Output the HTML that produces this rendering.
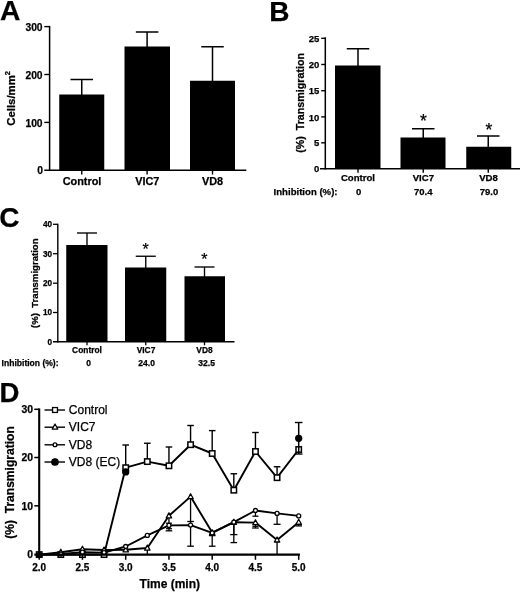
<!DOCTYPE html>
<html><head><meta charset="utf-8"><title>Figure</title>
<style>
html,body{margin:0;padding:0;background:#fff;}
svg{display:block;font-family:'Liberation Sans', Arial, Helvetica, sans-serif;}
text{stroke:#000;stroke-width:0.25px;}
</style></head><body>
<svg width="520" height="593" viewBox="0 0 520 593">
<rect width="520" height="593" fill="#fff"/>
<text x="10.10" y="20.30" font-size="28.3" font-weight="bold" text-anchor="middle" >A</text>
<line x1="81.75" y1="79.50" x2="81.75" y2="95.50" stroke="#000" stroke-width="1.5" />
<line x1="70.50" y1="79.50" x2="93.00" y2="79.50" stroke="#000" stroke-width="1.5" />
<rect x="59.25" y="94.50" width="45.00" height="75.80" fill="#000"/>
<line x1="81.75" y1="170.30" x2="81.75" y2="174.60" stroke="#000" stroke-width="1.4" />
<line x1="147.10" y1="32.00" x2="147.10" y2="47.50" stroke="#000" stroke-width="1.5" />
<line x1="135.85" y1="32.00" x2="158.35" y2="32.00" stroke="#000" stroke-width="1.5" />
<rect x="124.50" y="46.50" width="45.50" height="123.80" fill="#000"/>
<line x1="147.10" y1="170.30" x2="147.10" y2="174.60" stroke="#000" stroke-width="1.4" />
<line x1="212.50" y1="46.75" x2="212.50" y2="81.75" stroke="#000" stroke-width="1.5" />
<line x1="201.25" y1="46.75" x2="223.75" y2="46.75" stroke="#000" stroke-width="1.5" />
<rect x="190.00" y="80.75" width="45.00" height="89.55" fill="#000"/>
<line x1="212.50" y1="170.30" x2="212.50" y2="174.60" stroke="#000" stroke-width="1.4" />
<line x1="49.60" y1="25.90" x2="49.60" y2="171.05" stroke="#000" stroke-width="1.5" />
<line x1="44.30" y1="170.30" x2="246.30" y2="170.30" stroke="#000" stroke-width="1.6" />
<line x1="44.30" y1="26.60" x2="49.60" y2="26.60" stroke="#000" stroke-width="1.4" />
<text x="42.60" y="30.70" font-size="10.3" font-weight="bold" text-anchor="end" >300</text>
<line x1="44.30" y1="74.50" x2="49.60" y2="74.50" stroke="#000" stroke-width="1.4" />
<text x="42.60" y="78.60" font-size="10.3" font-weight="bold" text-anchor="end" >200</text>
<line x1="44.30" y1="122.40" x2="49.60" y2="122.40" stroke="#000" stroke-width="1.4" />
<text x="42.60" y="126.50" font-size="10.3" font-weight="bold" text-anchor="end" >100</text>
<text x="43.00" y="174.40" font-size="10.3" font-weight="bold" text-anchor="end" >0</text>
<text x="82.00" y="184.50" font-size="10.9" font-weight="bold" text-anchor="middle" >Control</text>
<text x="147.30" y="184.50" font-size="10.9" font-weight="bold" text-anchor="middle" >VIC7</text>
<text x="212.50" y="184.50" font-size="10.9" font-weight="bold" text-anchor="middle" >VD8</text>
<text x="15.5" y="125.8" font-size="11.4" font-weight="bold" transform="rotate(-90 15.5 125.8)">Cells/mm<tspan font-size="7.5" dy="-5.8">2</tspan></text>
<text x="279.40" y="20.70" font-size="28" font-weight="bold" text-anchor="middle" >B</text>
<line x1="358.00" y1="48.75" x2="358.00" y2="66.50" stroke="#000" stroke-width="1.5" />
<line x1="346.75" y1="48.75" x2="369.25" y2="48.75" stroke="#000" stroke-width="1.5" />
<rect x="335.00" y="65.50" width="45.50" height="103.20" fill="#000"/>
<line x1="358.00" y1="168.70" x2="358.00" y2="172.80" stroke="#000" stroke-width="1.4" />
<line x1="423.25" y1="128.75" x2="423.25" y2="138.50" stroke="#000" stroke-width="1.5" />
<line x1="412.00" y1="128.75" x2="434.50" y2="128.75" stroke="#000" stroke-width="1.5" />
<rect x="400.50" y="137.50" width="45.00" height="31.20" fill="#000"/>
<line x1="423.25" y1="168.70" x2="423.25" y2="172.80" stroke="#000" stroke-width="1.4" />
<line x1="488.25" y1="136.00" x2="488.25" y2="147.75" stroke="#000" stroke-width="1.5" />
<line x1="477.00" y1="136.00" x2="499.50" y2="136.00" stroke="#000" stroke-width="1.5" />
<rect x="466.25" y="146.75" width="45.00" height="21.95" fill="#000"/>
<line x1="488.25" y1="168.70" x2="488.25" y2="172.80" stroke="#000" stroke-width="1.4" />
<line x1="325.30" y1="37.30" x2="325.30" y2="169.45" stroke="#000" stroke-width="1.5" />
<line x1="320.00" y1="168.70" x2="520.00" y2="168.70" stroke="#000" stroke-width="1.6" />
<line x1="321.20" y1="38.30" x2="325.30" y2="38.30" stroke="#000" stroke-width="1.4" />
<text x="319.30" y="41.90" font-size="9.5" font-weight="bold" text-anchor="end" >25</text>
<line x1="321.20" y1="64.50" x2="325.30" y2="64.50" stroke="#000" stroke-width="1.4" />
<text x="319.30" y="68.10" font-size="9.5" font-weight="bold" text-anchor="end" >20</text>
<line x1="321.20" y1="90.70" x2="325.30" y2="90.70" stroke="#000" stroke-width="1.4" />
<text x="319.30" y="94.30" font-size="9.5" font-weight="bold" text-anchor="end" >15</text>
<line x1="321.20" y1="116.90" x2="325.30" y2="116.90" stroke="#000" stroke-width="1.4" />
<text x="319.30" y="120.50" font-size="9.5" font-weight="bold" text-anchor="end" >10</text>
<line x1="321.20" y1="142.80" x2="325.30" y2="142.80" stroke="#000" stroke-width="1.4" />
<text x="319.30" y="146.40" font-size="9.5" font-weight="bold" text-anchor="end" >5</text>
<text x="319.30" y="172.40" font-size="9.5" font-weight="bold" text-anchor="end" >0</text>
<text x="358.00" y="181.30" font-size="9.6" font-weight="bold" text-anchor="middle" >Control</text>
<text x="423.40" y="181.30" font-size="9.6" font-weight="bold" text-anchor="middle" >VIC7</text>
<text x="488.50" y="181.30" font-size="9.6" font-weight="bold" text-anchor="middle" >VD8</text>
<text x="273.60" y="194.90" font-size="9.6" font-weight="bold" text-anchor="start" >Inhibition (%):</text>
<text x="358.70" y="194.90" font-size="9.5" font-weight="bold" text-anchor="middle" >0</text>
<text x="423.20" y="194.90" font-size="9.5" font-weight="bold" text-anchor="middle" >70.4</text>
<text x="489.00" y="194.90" font-size="9.5" font-weight="bold" text-anchor="middle" >79.0</text>
<text x="423.40" y="126.50" font-size="17.5" font-weight="normal" text-anchor="middle" >*</text>
<text x="488.80" y="135.60" font-size="17.5" font-weight="normal" text-anchor="middle" >*</text>
<text x="0" y="0" font-size="10.7" font-weight="bold" text-anchor="start" transform="translate(304.00 152.80) rotate(-90)" xml:space="preserve">(%)  Transmigration</text>
<text x="9.35" y="226.60" font-size="28" font-weight="bold" text-anchor="middle" >C</text>
<line x1="87.00" y1="233.00" x2="87.00" y2="246.00" stroke="#000" stroke-width="1.35" />
<line x1="77.00" y1="233.00" x2="97.00" y2="233.00" stroke="#000" stroke-width="1.35" />
<rect x="66.25" y="245.00" width="41.25" height="96.80" fill="#000"/>
<line x1="87.00" y1="341.80" x2="87.00" y2="345.30" stroke="#000" stroke-width="1.3" />
<line x1="145.75" y1="256.25" x2="145.75" y2="268.50" stroke="#000" stroke-width="1.35" />
<line x1="135.75" y1="256.25" x2="155.75" y2="256.25" stroke="#000" stroke-width="1.35" />
<rect x="125.00" y="267.50" width="41.25" height="74.30" fill="#000"/>
<line x1="145.75" y1="341.80" x2="145.75" y2="345.30" stroke="#000" stroke-width="1.3" />
<line x1="204.50" y1="267.00" x2="204.50" y2="277.25" stroke="#000" stroke-width="1.35" />
<line x1="194.50" y1="267.00" x2="214.50" y2="267.00" stroke="#000" stroke-width="1.35" />
<rect x="184.50" y="276.25" width="40.50" height="65.55" fill="#000"/>
<line x1="204.50" y1="341.80" x2="204.50" y2="345.30" stroke="#000" stroke-width="1.3" />
<line x1="57.80" y1="223.70" x2="57.80" y2="342.50" stroke="#000" stroke-width="1.4" />
<line x1="53.00" y1="341.80" x2="234.50" y2="341.80" stroke="#000" stroke-width="1.4" />
<line x1="53.00" y1="224.30" x2="57.80" y2="224.30" stroke="#000" stroke-width="1.3" />
<text x="52.00" y="227.20" font-size="8.2" font-weight="bold" text-anchor="end" >40</text>
<line x1="53.00" y1="253.70" x2="57.80" y2="253.70" stroke="#000" stroke-width="1.3" />
<text x="52.00" y="256.60" font-size="8.2" font-weight="bold" text-anchor="end" >30</text>
<line x1="53.00" y1="283.20" x2="57.80" y2="283.20" stroke="#000" stroke-width="1.3" />
<text x="52.00" y="286.10" font-size="8.2" font-weight="bold" text-anchor="end" >20</text>
<line x1="53.00" y1="312.50" x2="57.80" y2="312.50" stroke="#000" stroke-width="1.3" />
<text x="52.00" y="315.40" font-size="8.2" font-weight="bold" text-anchor="end" >10</text>
<text x="52.00" y="344.70" font-size="8.2" font-weight="bold" text-anchor="end" >0</text>
<text x="87.00" y="353.10" font-size="8.4" font-weight="bold" text-anchor="middle" >Control</text>
<text x="146.00" y="353.10" font-size="8.4" font-weight="bold" text-anchor="middle" >VIC7</text>
<text x="204.50" y="353.10" font-size="8.4" font-weight="bold" text-anchor="middle" >VD8</text>
<text x="1.60" y="365.50" font-size="8.55" font-weight="bold" text-anchor="start" >Inhibition (%):</text>
<text x="88.70" y="365.50" font-size="8.5" font-weight="bold" text-anchor="middle" >0</text>
<text x="146.60" y="365.50" font-size="8.5" font-weight="bold" text-anchor="middle" >24.0</text>
<text x="206.60" y="365.50" font-size="8.5" font-weight="bold" text-anchor="middle" >32.5</text>
<text x="145.60" y="254.80" font-size="16" font-weight="normal" text-anchor="middle" >*</text>
<text x="204.30" y="264.80" font-size="16" font-weight="normal" text-anchor="middle" >*</text>
<text x="0" y="0" font-size="9.6" font-weight="bold" text-anchor="start" transform="translate(38.20 328.00) rotate(-90)" xml:space="preserve">(%)  Transmigration</text>
<text x="9.40" y="402.00" font-size="27.6" font-weight="bold" text-anchor="middle" >D</text>
<line x1="125.70" y1="445.00" x2="125.70" y2="467.70" stroke="#000" stroke-width="1.4" />
<line x1="122.40" y1="445.00" x2="129.00" y2="445.00" stroke="#000" stroke-width="1.4" />
<line x1="147.32" y1="443.25" x2="147.32" y2="461.60" stroke="#000" stroke-width="1.4" />
<line x1="144.02" y1="443.25" x2="150.62" y2="443.25" stroke="#000" stroke-width="1.4" />
<line x1="168.95" y1="447.00" x2="168.95" y2="465.80" stroke="#000" stroke-width="1.4" />
<line x1="165.65" y1="447.00" x2="172.25" y2="447.00" stroke="#000" stroke-width="1.4" />
<line x1="190.57" y1="425.50" x2="190.57" y2="444.70" stroke="#000" stroke-width="1.4" />
<line x1="187.27" y1="425.50" x2="193.88" y2="425.50" stroke="#000" stroke-width="1.4" />
<line x1="212.20" y1="430.60" x2="212.20" y2="453.50" stroke="#000" stroke-width="1.4" />
<line x1="208.90" y1="430.60" x2="215.50" y2="430.60" stroke="#000" stroke-width="1.4" />
<line x1="233.82" y1="473.75" x2="233.82" y2="490.20" stroke="#000" stroke-width="1.4" />
<line x1="230.52" y1="473.75" x2="237.12" y2="473.75" stroke="#000" stroke-width="1.4" />
<line x1="255.45" y1="432.50" x2="255.45" y2="451.50" stroke="#000" stroke-width="1.4" />
<line x1="252.15" y1="432.50" x2="258.75" y2="432.50" stroke="#000" stroke-width="1.4" />
<line x1="277.07" y1="466.75" x2="277.07" y2="477.70" stroke="#000" stroke-width="1.4" />
<line x1="273.77" y1="466.75" x2="280.38" y2="466.75" stroke="#000" stroke-width="1.4" />
<polyline points="39.20,554.60 60.83,554.60 82.45,554.60 104.08,554.60 125.70,467.70 147.32,461.60 168.95,465.80 190.57,444.70 212.20,453.50 233.82,490.20 255.45,451.50 277.07,477.70 298.70,449.50" fill="none" stroke="#000" stroke-width="1.9" stroke-linejoin="round"/>
<rect x="36.50" y="551.90" width="5.40" height="5.40" fill="#fff" stroke="#000" stroke-width="1.5"/>
<rect x="58.12" y="551.90" width="5.40" height="5.40" fill="#fff" stroke="#000" stroke-width="1.5"/>
<rect x="79.75" y="551.90" width="5.40" height="5.40" fill="#fff" stroke="#000" stroke-width="1.5"/>
<rect x="101.38" y="551.90" width="5.40" height="5.40" fill="#fff" stroke="#000" stroke-width="1.5"/>
<rect x="123.00" y="465.00" width="5.40" height="5.40" fill="#fff" stroke="#000" stroke-width="1.5"/>
<rect x="144.62" y="458.90" width="5.40" height="5.40" fill="#fff" stroke="#000" stroke-width="1.5"/>
<rect x="166.25" y="463.10" width="5.40" height="5.40" fill="#fff" stroke="#000" stroke-width="1.5"/>
<rect x="187.88" y="442.00" width="5.40" height="5.40" fill="#fff" stroke="#000" stroke-width="1.5"/>
<rect x="209.50" y="450.80" width="5.40" height="5.40" fill="#fff" stroke="#000" stroke-width="1.5"/>
<rect x="231.12" y="487.50" width="5.40" height="5.40" fill="#fff" stroke="#000" stroke-width="1.5"/>
<rect x="252.75" y="448.80" width="5.40" height="5.40" fill="#fff" stroke="#000" stroke-width="1.5"/>
<rect x="274.38" y="475.00" width="5.40" height="5.40" fill="#fff" stroke="#000" stroke-width="1.5"/>
<rect x="296.00" y="446.80" width="5.40" height="5.40" fill="#fff" stroke="#000" stroke-width="1.5"/>
<line x1="147.32" y1="548.00" x2="147.32" y2="554.00" stroke="#000" stroke-width="1.3" />
<line x1="168.95" y1="516.00" x2="168.95" y2="530.80" stroke="#000" stroke-width="1.3" />
<line x1="165.65" y1="530.80" x2="172.25" y2="530.80" stroke="#000" stroke-width="1.3" />
<line x1="190.57" y1="497.00" x2="190.57" y2="546.20" stroke="#000" stroke-width="1.3" />
<line x1="187.27" y1="546.20" x2="193.88" y2="546.20" stroke="#000" stroke-width="1.3" />
<line x1="212.20" y1="532.00" x2="212.20" y2="546.20" stroke="#000" stroke-width="1.3" />
<line x1="208.90" y1="546.20" x2="215.50" y2="546.20" stroke="#000" stroke-width="1.3" />
<line x1="233.82" y1="522.00" x2="233.82" y2="542.60" stroke="#000" stroke-width="1.3" />
<line x1="230.52" y1="542.60" x2="237.12" y2="542.60" stroke="#000" stroke-width="1.3" />
<line x1="255.45" y1="523.00" x2="255.45" y2="528.00" stroke="#000" stroke-width="1.3" />
<line x1="252.15" y1="528.00" x2="258.75" y2="528.00" stroke="#000" stroke-width="1.3" />
<line x1="277.07" y1="540.40" x2="277.07" y2="554.60" stroke="#000" stroke-width="1.3" />
<line x1="298.70" y1="523.00" x2="298.70" y2="525.90" stroke="#000" stroke-width="1.3" />
<line x1="295.40" y1="525.90" x2="302.00" y2="525.90" stroke="#000" stroke-width="1.3" />
<polyline points="39.20,554.60 60.83,552.20 82.45,549.20 104.08,550.00 125.70,549.80 147.32,548.00 168.95,515.80 190.57,496.60 212.20,532.60 233.82,522.20 255.45,522.60 277.07,539.90 298.70,522.20" fill="none" stroke="#000" stroke-width="1.9" stroke-linejoin="round"/>
<polygon points="39.20,551.70 36.50,556.70 41.90,556.70" fill="#fff" stroke="#000" stroke-width="1.3" stroke-linejoin="round"/>
<polygon points="60.83,549.30 58.12,554.30 63.53,554.30" fill="#fff" stroke="#000" stroke-width="1.3" stroke-linejoin="round"/>
<polygon points="82.45,546.30 79.75,551.30 85.15,551.30" fill="#fff" stroke="#000" stroke-width="1.3" stroke-linejoin="round"/>
<polygon points="104.08,547.10 101.38,552.10 106.78,552.10" fill="#fff" stroke="#000" stroke-width="1.3" stroke-linejoin="round"/>
<polygon points="125.70,546.90 123.00,551.90 128.40,551.90" fill="#fff" stroke="#000" stroke-width="1.3" stroke-linejoin="round"/>
<polygon points="147.32,545.10 144.62,550.10 150.02,550.10" fill="#fff" stroke="#000" stroke-width="1.3" stroke-linejoin="round"/>
<polygon points="168.95,512.90 166.25,517.90 171.65,517.90" fill="#fff" stroke="#000" stroke-width="1.3" stroke-linejoin="round"/>
<polygon points="190.57,493.70 187.88,498.70 193.27,498.70" fill="#fff" stroke="#000" stroke-width="1.3" stroke-linejoin="round"/>
<polygon points="212.20,529.70 209.50,534.70 214.90,534.70" fill="#fff" stroke="#000" stroke-width="1.3" stroke-linejoin="round"/>
<polygon points="233.82,519.30 231.12,524.30 236.52,524.30" fill="#fff" stroke="#000" stroke-width="1.3" stroke-linejoin="round"/>
<polygon points="255.45,519.70 252.75,524.70 258.15,524.70" fill="#fff" stroke="#000" stroke-width="1.3" stroke-linejoin="round"/>
<polygon points="277.07,537.00 274.38,542.00 279.77,542.00" fill="#fff" stroke="#000" stroke-width="1.3" stroke-linejoin="round"/>
<polygon points="298.70,519.30 296.00,524.30 301.40,524.30" fill="#fff" stroke="#000" stroke-width="1.3" stroke-linejoin="round"/>
<line x1="168.95" y1="523.20" x2="168.95" y2="528.70" stroke="#000" stroke-width="1.3" />
<line x1="165.95" y1="523.20" x2="171.95" y2="523.20" stroke="#000" stroke-width="1.3" />
<line x1="165.95" y1="528.70" x2="171.95" y2="528.70" stroke="#000" stroke-width="1.3" />
<line x1="187.27" y1="521.50" x2="193.88" y2="521.50" stroke="#000" stroke-width="1.3" />
<line x1="212.20" y1="532.90" x2="212.20" y2="535.60" stroke="#000" stroke-width="1.3" />
<line x1="208.90" y1="535.60" x2="215.50" y2="535.60" stroke="#000" stroke-width="1.3" />
<line x1="233.82" y1="522.00" x2="233.82" y2="534.60" stroke="#000" stroke-width="1.3" />
<line x1="230.22" y1="534.60" x2="237.42" y2="534.60" stroke="#000" stroke-width="1.3" />
<line x1="255.45" y1="510.50" x2="255.45" y2="516.20" stroke="#000" stroke-width="1.3" />
<line x1="252.45" y1="516.20" x2="258.45" y2="516.20" stroke="#000" stroke-width="1.3" />
<line x1="252.45" y1="526.30" x2="258.45" y2="526.30" stroke="#000" stroke-width="1.3" />
<line x1="277.07" y1="513.40" x2="277.07" y2="524.30" stroke="#000" stroke-width="1.3" />
<line x1="273.57" y1="524.30" x2="280.57" y2="524.30" stroke="#000" stroke-width="1.3" />
<line x1="295.70" y1="524.40" x2="301.70" y2="524.40" stroke="#000" stroke-width="1.3" />
<polyline points="39.20,554.60 60.83,554.00 82.45,552.20 104.08,552.60 125.70,546.50 147.32,535.40 168.95,525.40 190.57,525.10 212.20,532.90 233.82,522.20 255.45,510.50 277.07,513.40 298.70,515.90" fill="none" stroke="#000" stroke-width="1.9" stroke-linejoin="round"/>
<circle cx="39.20" cy="554.60" r="2.0" fill="#fff" stroke="#000" stroke-width="1.3"/>
<circle cx="60.83" cy="554.00" r="2.0" fill="#fff" stroke="#000" stroke-width="1.3"/>
<circle cx="82.45" cy="552.20" r="2.0" fill="#fff" stroke="#000" stroke-width="1.3"/>
<circle cx="104.08" cy="552.60" r="2.0" fill="#fff" stroke="#000" stroke-width="1.3"/>
<circle cx="125.70" cy="546.50" r="2.0" fill="#fff" stroke="#000" stroke-width="1.3"/>
<circle cx="147.32" cy="535.40" r="2.0" fill="#fff" stroke="#000" stroke-width="1.3"/>
<circle cx="168.95" cy="525.40" r="2.0" fill="#fff" stroke="#000" stroke-width="1.3"/>
<circle cx="190.57" cy="525.10" r="2.0" fill="#fff" stroke="#000" stroke-width="1.3"/>
<circle cx="212.20" cy="532.90" r="2.0" fill="#fff" stroke="#000" stroke-width="1.3"/>
<circle cx="233.82" cy="522.20" r="2.0" fill="#fff" stroke="#000" stroke-width="1.3"/>
<circle cx="255.45" cy="510.50" r="2.0" fill="#fff" stroke="#000" stroke-width="1.3"/>
<circle cx="277.07" cy="513.40" r="2.0" fill="#fff" stroke="#000" stroke-width="1.3"/>
<circle cx="298.70" cy="515.90" r="2.0" fill="#fff" stroke="#000" stroke-width="1.3"/>
<line x1="298.70" y1="422.50" x2="298.70" y2="454.00" stroke="#000" stroke-width="1.5" />
<line x1="294.90" y1="422.50" x2="302.50" y2="422.50" stroke="#000" stroke-width="1.4" />
<line x1="294.90" y1="454.00" x2="302.50" y2="454.00" stroke="#000" stroke-width="1.4" />
<circle cx="125.70" cy="471.90" r="3.0" fill="#000" stroke="#000" stroke-width="1.3"/>
<circle cx="298.70" cy="438.30" r="3.0" fill="#000" stroke="#000" stroke-width="1.3"/>
<line x1="39.20" y1="408.40" x2="39.20" y2="555.70" stroke="#000" stroke-width="2.1" />
<line x1="34.30" y1="554.60" x2="299.90" y2="554.60" stroke="#000" stroke-width="2.3" />
<line x1="34.30" y1="505.80" x2="39.20" y2="505.80" stroke="#000" stroke-width="1.5" />
<text x="33.00" y="509.50" font-size="10.4" font-weight="bold" text-anchor="end" >10</text>
<line x1="34.30" y1="457.50" x2="39.20" y2="457.50" stroke="#000" stroke-width="1.5" />
<text x="33.00" y="461.20" font-size="10.4" font-weight="bold" text-anchor="end" >20</text>
<line x1="34.30" y1="409.30" x2="39.20" y2="409.30" stroke="#000" stroke-width="1.5" />
<text x="33.00" y="413.00" font-size="10.4" font-weight="bold" text-anchor="end" >30</text>
<text x="33.00" y="558.30" font-size="10.4" font-weight="bold" text-anchor="end" >0</text>
<line x1="39.20" y1="554.60" x2="39.20" y2="559.80" stroke="#000" stroke-width="1.5" />
<text x="39.20" y="571.00" font-size="10" font-weight="bold" text-anchor="middle" >2.0</text>
<line x1="82.45" y1="554.60" x2="82.45" y2="559.80" stroke="#000" stroke-width="1.5" />
<text x="82.45" y="571.00" font-size="10" font-weight="bold" text-anchor="middle" >2.5</text>
<line x1="125.70" y1="554.60" x2="125.70" y2="559.80" stroke="#000" stroke-width="1.5" />
<text x="125.70" y="571.00" font-size="10" font-weight="bold" text-anchor="middle" >3.0</text>
<line x1="168.95" y1="554.60" x2="168.95" y2="559.80" stroke="#000" stroke-width="1.5" />
<text x="168.95" y="571.00" font-size="10" font-weight="bold" text-anchor="middle" >3.5</text>
<line x1="212.20" y1="554.60" x2="212.20" y2="559.80" stroke="#000" stroke-width="1.5" />
<text x="212.20" y="571.00" font-size="10" font-weight="bold" text-anchor="middle" >4.0</text>
<line x1="255.45" y1="554.60" x2="255.45" y2="559.80" stroke="#000" stroke-width="1.5" />
<text x="255.45" y="571.00" font-size="10" font-weight="bold" text-anchor="middle" >4.5</text>
<line x1="298.70" y1="554.60" x2="298.70" y2="559.80" stroke="#000" stroke-width="1.5" />
<text x="298.70" y="571.00" font-size="10" font-weight="bold" text-anchor="middle" >5.0</text>
<text x="169.80" y="587.50" font-size="12" font-weight="bold" text-anchor="middle" >Time (min)</text>
<text x="0" y="0" font-size="12.05" font-weight="bold" text-anchor="start" transform="translate(14.20 538.70) rotate(-90)" xml:space="preserve">(%)  Transmigration</text>
<line x1="44.50" y1="410.00" x2="65.00" y2="410.00" stroke="#000" stroke-width="1.4" />
<rect x="52.55" y="407.55" width="4.90" height="4.90" fill="#fff" stroke="#000" stroke-width="1.3"/>
<text x="68.80" y="414.10" font-size="12" font-weight="normal" text-anchor="start" >Control</text>
<line x1="44.50" y1="427.20" x2="65.00" y2="427.20" stroke="#000" stroke-width="1.4" />
<polygon points="55.00,424.00 52.20,429.10 57.80,429.10" fill="#fff" stroke="#000" stroke-width="1.2" stroke-linejoin="round"/>
<text x="68.80" y="431.30" font-size="12" font-weight="normal" text-anchor="start" >VIC7</text>
<line x1="44.50" y1="444.80" x2="65.00" y2="444.80" stroke="#000" stroke-width="1.4" />
<circle cx="55.00" cy="444.80" r="1.9" fill="#fff" stroke="#000" stroke-width="1.3"/>
<text x="68.80" y="448.90" font-size="12" font-weight="normal" text-anchor="start" >VD8</text>
<line x1="44.50" y1="462.00" x2="65.00" y2="462.00" stroke="#000" stroke-width="1.4" />
<circle cx="55.00" cy="462.00" r="3.2" fill="#000" stroke="#000" stroke-width="1.3"/>
<text x="68.80" y="466.10" font-size="12" font-weight="normal" text-anchor="start" >VD8 (EC)</text>
</svg>
</body></html>
